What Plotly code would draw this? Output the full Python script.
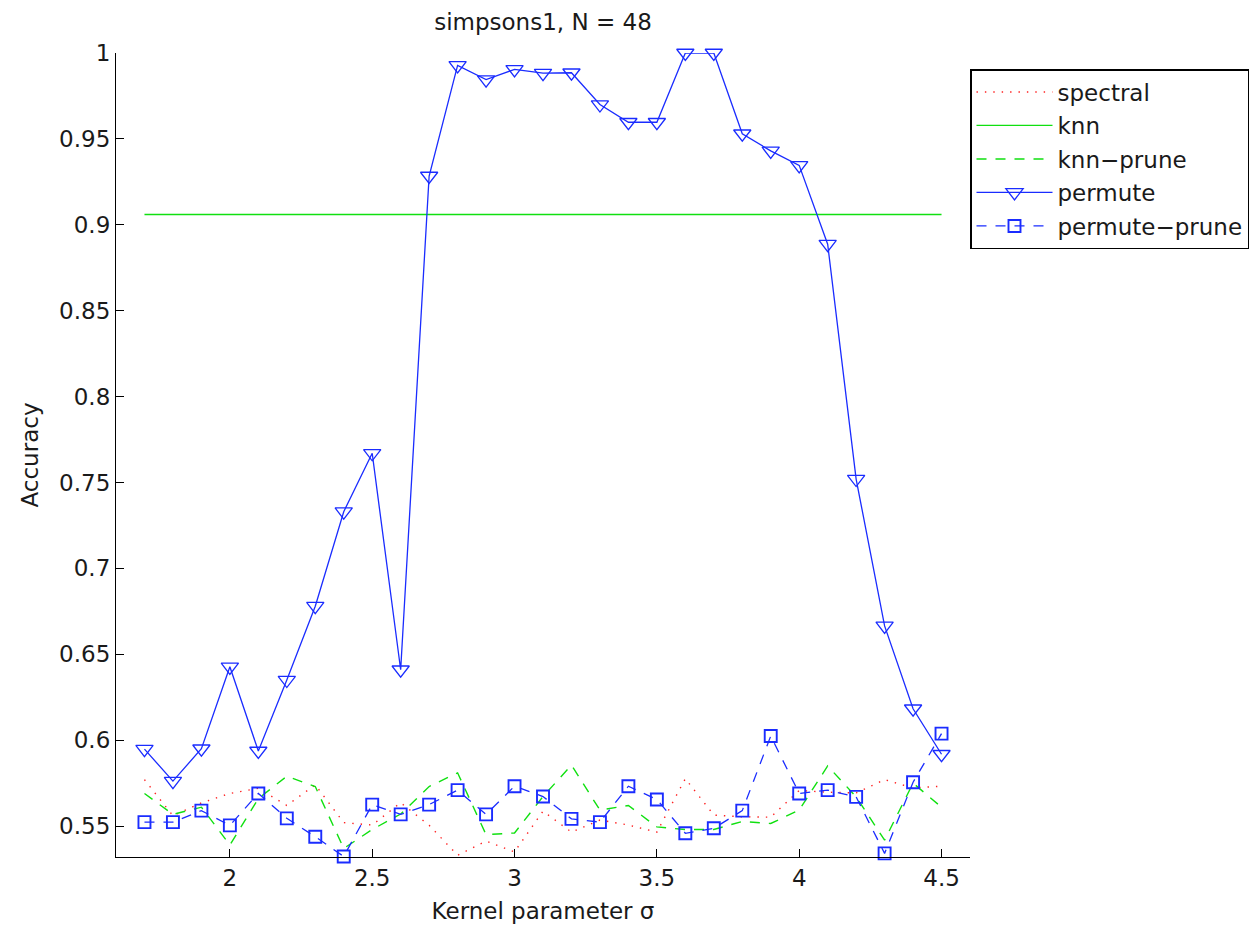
import plotly.graph_objects as go

# Kernel parameter sigma values
sigma = [1.7, 1.8, 1.9, 2.0, 2.1, 2.2, 2.3, 2.4, 2.5, 2.6, 2.7, 2.8, 2.9, 3.0, 3.1,
         3.2, 3.3, 3.4, 3.5, 3.6, 3.7, 3.8, 3.9, 4.0, 4.1, 4.2, 4.3, 4.4, 4.5]

spectral = [0.577, 0.556, 0.5635, 0.569, 0.572, 0.562, 0.574, 0.552, 0.5506, 0.5636,
            0.5505, 0.533, 0.5413, 0.535, 0.5587, 0.5465, 0.5535, 0.5506, 0.5465, 0.5776,
            0.5564, 0.5554, 0.5552, 0.5707, 0.5697, 0.5693, 0.577, 0.5722, 0.5732]

knn = [0.906] * len(sigma)

knn_prune = [0.569, 0.5568, 0.561, 0.539, 0.566, 0.579, 0.573, 0.537, 0.548, 0.557,
             0.573, 0.581, 0.545, 0.546, 0.5672, 0.5855, 0.5593, 0.562, 0.5495, 0.548,
             0.548, 0.5527, 0.5515, 0.5593, 0.585, 0.567, 0.5418, 0.575, 0.561]

permute = [0.5948, 0.5762, 0.595, 0.6427, 0.5937, 0.635, 0.678, 0.733, 0.767, 0.641,
           0.9284, 0.9928, 0.9845, 0.9905, 0.9883, 0.9885, 0.970, 0.9597, 0.9597, 1.0,
           1.0, 0.953, 0.943, 0.9346, 0.8887, 0.752, 0.6665, 0.6183, 0.5918]

permute_prune = [0.5523, 0.5523, 0.559, 0.5504, 0.569, 0.5545, 0.5438, 0.5323, 0.5625, 0.5568,
                 0.5625, 0.5709, 0.5568, 0.5732, 0.5672, 0.5542, 0.5523, 0.5732, 0.5655, 0.5458,
                 0.5487, 0.559, 0.6024, 0.569, 0.5709, 0.567, 0.5341, 0.5755, 0.6038]

y_ticks = [0.55, 0.6, 0.65, 0.7, 0.75, 0.8, 0.85, 0.9, 0.95, 1.0]
x_ticks = [2, 2.5, 3, 3.5, 4, 4.5]

FONT = "DejaVu Sans"
TXT = "#1a1a1a"
RED = "#ff2020"
GREEN = "#10e010"
BLUE = "#1a2cff"

fig = go.Figure()

fig.add_trace(go.Scatter(
    x=sigma, y=spectral, name="spectral", mode="lines", legendgroup="a",
    line=dict(color=RED, width=1.4, dash="1.4px,7px"), cliponaxis=False))
fig.add_trace(go.Scatter(
    x=sigma, y=knn, name="knn", mode="lines", legendgroup="b",
    line=dict(color=GREEN, width=1.3), cliponaxis=False))
fig.add_trace(go.Scatter(
    x=sigma, y=knn_prune, name="knn\u2212prune", mode="lines", legendgroup="c",
    line=dict(color=GREEN, width=1.4, dash="10px,9px"), cliponaxis=False))
fig.add_trace(go.Scatter(
    x=sigma, y=permute, name="permute", mode="lines+markers", legendgroup="d",
    line=dict(color=BLUE, width=1.3),
    marker=dict(symbol="triangle-down-open", size=15, color=BLUE,
                line=dict(width=1.3, color=BLUE)),
    cliponaxis=False))
fig.add_trace(go.Scatter(
    x=sigma, y=permute_prune, name="permute\u2212prune", mode="lines+markers", legendgroup="e",
    line=dict(color=BLUE, width=1.3, dash="10px,9px"),
    marker=dict(symbol="square-open", size=12, color=BLUE,
                line=dict(width=1.9, color=BLUE)),
    cliponaxis=False))

fig.update_layout(
    width=1249, height=928,
    margin=dict(l=116, r=279, t=53, b=71, autoexpand=False),
    paper_bgcolor="white", plot_bgcolor="white",
    font=dict(family=FONT, size=23, color=TXT),
    title=dict(text="simpsons1, N = 48", x=0.5, xref="paper", xanchor="center",
               y=1 - 22 / 928, yref="container", yanchor="middle",
               font=dict(family=FONT, size=23, color=TXT)),
    legend=dict(x=1.0, xanchor="left", y=(857 - 69) / 804, yanchor="top",
                bgcolor="white", bordercolor="black", borderwidth=1.5,
                font=dict(family=FONT, size=23, color=TXT),
                itemwidth=76, tracegroupgap=0.6, traceorder="grouped"),
    showlegend=True,
)

fig.update_xaxes(
    range=[1.6, 4.6], tickvals=x_ticks, ticktext=[f"{v:g}" for v in x_ticks],
    showline=True, linecolor="black", linewidth=1.2, mirror=False,
    ticks="inside", ticklen=8, tickwidth=1.2, tickcolor="black",
    showgrid=False, zeroline=False,
    tickfont=dict(family=FONT, size=23, color=TXT),
    title=dict(text="Kernel parameter \u03c3", standoff=13,
               font=dict(family=FONT, size=23, color=TXT)),
)
fig.update_yaxes(
    range=[0.532, 1.0], tickvals=y_ticks, ticktext=[f"{v:g}" for v in y_ticks],
    showline=True, linecolor="black", linewidth=1.2, mirror=False,
    ticks="inside", ticklen=8, tickwidth=1.2, tickcolor="black",
    showgrid=False, zeroline=False,
    tickfont=dict(family=FONT, size=23, color=TXT),
    title=dict(text="Accuracy", standoff=14,
               font=dict(family=FONT, size=23, color=TXT)),
)

fig.write_html("out.html")
